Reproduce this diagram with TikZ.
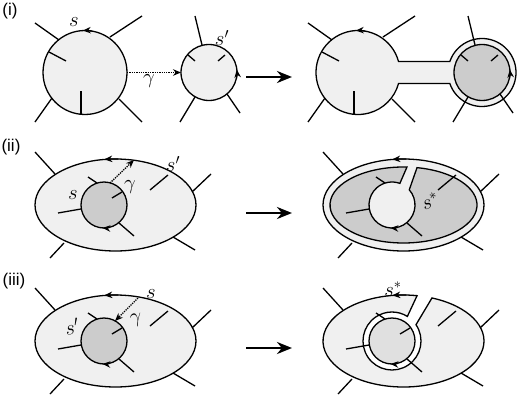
\documentclass[tikz,border=0pt]{standalone}
\usepackage{fontspec}
\newfontfamily\labfont{Liberation Sans}
\usetikzlibrary{arrows.meta,calc}
\definecolor{lightfill}{RGB}{240,240,240}
\definecolor{darkfill}{RGB}{204,204,204}
\definecolor{midfill}{RGB}{224,224,224}
\newcommand\ellticks{%
  \draw (35,-152) -- (55,-174);
  \draw (211,-174) -- (192,-192);
  \draw (50,-258) -- (64,-243);
  \draw (195,-250) -- (173,-237);
  \draw (150,-190) -- (168,-175);
  \draw (88,-177) -- (97,-183);
  \draw (58,-213) -- (81,-209);
  \draw (134,-236) -- (119,-223);
  \draw[midtip] (115.5,-205) ++(88:80.5 and 46) arc[start angle=88, end angle=98, x radius=80.5, y radius=46];
  \draw[midtip] (104,-205) ++(285:23) arc[start angle=285, end angle=266, radius=23];
}
\newcommand\circticks{%
  \draw (35,-23) -- (59,-40);
  \draw (142,-16) -- (110,-37);
  \draw (35,-122) -- (52,-98);
  \draw (142,-122) -- (119,-99);
  \draw (49,-52) -- (66,-61);
  \draw (81,-114.5) -- (81,-91);
  \draw (195,-16) -- (202,-45);
  \draw (188,-55) -- (195,-61);
  \draw (225,-55) -- (218,-61);
  \draw (180,-122) -- (195,-97);
  \draw (240,-113) -- (227,-94);
  \draw[midtip] (85,-72.5) ++(80:42) arc[start angle=80, end angle=93, radius=42];
  \draw[midtip] (209,-72.5) ++(-12:28) arc[start angle=-12, end angle=6, radius=28];
}
\begin{document}
\begin{tikzpicture}[x=1pt,y=1pt,line width=1.3pt,
  midtip/.style={-{Stealth[length=8pt,width=6.5pt]}},
  gam/.style={densely dotted,-{Stealth[length=8pt,width=6.5pt]}},
  bigarrow/.style={line width=2.8pt,-{Stealth[length=15pt,width=12pt]}},
  lbl/.style={font=\fontsize{20}{24}\selectfont, inner sep=0pt},
  panel/.style={font=\labfont\fontsize{17}{20}\selectfont, inner sep=0pt}]
\useasboundingbox (0,0) rectangle (518,-401);

% ---------- (i) ----------
\node[panel] (pI) at (10,-11) {(i)};
\draw[fill=lightfill] (85,-72.5) circle[radius=42];
\draw[fill=lightfill] (209,-72.5) circle[radius=28];
\draw[fill=lightfill] ($(358,-72.5)+(15.17:42)$) arc[start angle=15.17, end angle=344.83, radius=42]
  -- ($(482,-72.5)+(-161.13:34)$) arc[start angle=-161.13, end angle=161.13, radius=34] -- cycle;
\draw[fill=darkfill] (482,-72.5) circle[radius=28];
\circticks
\begin{scope}[xshift=273]
\circticks
\end{scope}
\coordinate (g1s) at (127,-72.5);
\coordinate (g1e) at (181,-72.5);
\draw[gam] (g1s) -- (g1e);
\node[lbl] (sI) at (74,-22) {$s$};
\node[lbl] (spI) at (222,-38) {$s'$};
\node[lbl] (gI) at (149,-81) {$\gamma$};
\coordinate (a1s) at (246,-77);
\coordinate (a1e) at (292,-77);
\draw[bigarrow] (a1s) -- (a1e);

% ---------- (ii) ----------
\node[panel] (pII) at (11,-147) {(ii)};
\draw[fill=lightfill] (115.5,-205) ellipse[x radius=80.5, y radius=46];
\draw[fill=darkfill] (104,-205) circle[radius=23];
\ellticks
\draw (112,-198) -- (122,-192);
\coordinate (g2s) at (110,-183);
\coordinate (g2e) at (134,-160);
\draw[gam] (g2s) -- (g2e);
\node[lbl] (sII) at (73,-195) {$s$};
\node[lbl] (spII) at (173,-164) {$s'$};
\node[lbl] (gII) at (130,-187) {$\gamma$};
\coordinate (a2s) at (246,-213);
\coordinate (a2e) at (292,-213);
\draw[bigarrow] (a2s) -- (a2e);

\draw[fill=lightfill] (403.5,-205) ellipse[x radius=80.5, y radius=46];
\draw[fill=darkfill] (403.5,-205) ++(87.3:73.5 and 38) arc[start angle=87.3, end angle=439.4, x radius=73.5, y radius=38]
  -- ($(392,-205)+(41.4:23)$) arc[start angle=41.4, end angle=-290, radius=23] -- cycle;
\begin{scope}[xshift=288]
\ellticks
\end{scope}
\node[lbl, rotate=20] (ssII) at (430,-201) {$s^*$};

% ---------- (iii) ----------
\node[panel] (pIII) at (14,-281) {(iii)};
\draw[fill=lightfill] (115.5,-341) ellipse[x radius=80.5, y radius=46];
\draw[fill=darkfill] (104,-341) circle[radius=23];
\begin{scope}[yshift=-136]
\ellticks
\draw (112,-198) -- (122,-192);
\end{scope}
\coordinate (g3s) at (138,-298);
\coordinate (g3e) at (115,-321);
\draw[gam] (g3s) -- (g3e);
\node[lbl] (sIII) at (151,-294) {$s$};
\node[lbl, rotate=10] (spIII) at (72,-327) {$s'$};
\node[lbl, rotate=8] (gIII) at (136,-320) {$\gamma$};
\coordinate (a3s) at (246,-348);
\coordinate (a3e) at (292,-348);
\draw[bigarrow] (a3s) -- (a3e);

\draw[fill=lightfill] (403.5,-341) ++(80.3:80.5 and 46) arc[start angle=80.3, end angle=429.3, x radius=80.5, y radius=46]
  -- ($(392,-341)+(34.2:29)$) arc[start angle=34.2, end angle=-302, radius=29] -- cycle;
\draw[fill=midfill] (392,-341) circle[radius=23];
\begin{scope}[xshift=288,yshift=-136]
\ellticks
\draw (112,-198) -- (122,-192);
\end{scope}
\node[lbl] (ssIII) at (393,-289) {$s^*$};
\end{tikzpicture}
\end{document}
